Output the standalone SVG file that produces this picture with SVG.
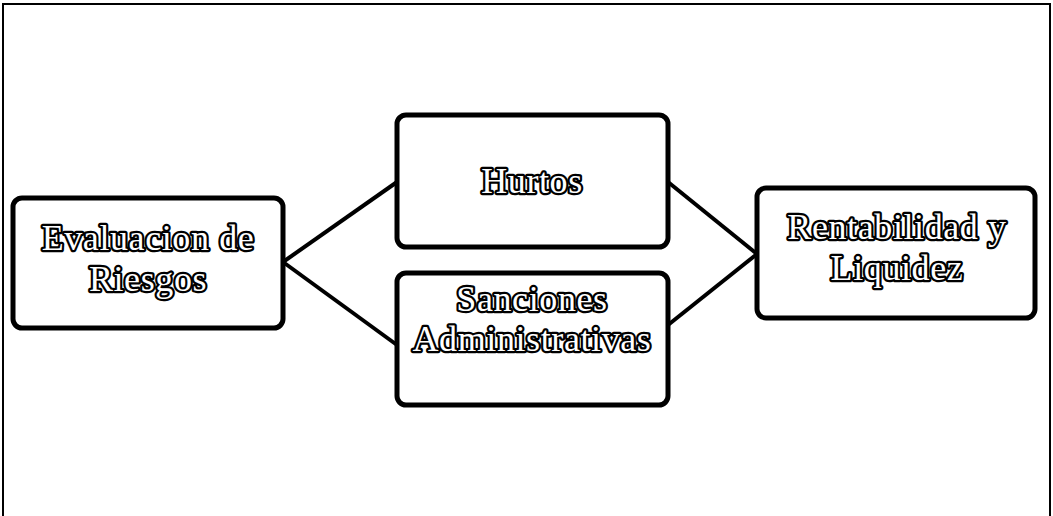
<svg xmlns="http://www.w3.org/2000/svg" width="1053" height="516" viewBox="0 0 1053 516">
<style>
.box{fill:#fff;stroke:#000;stroke-width:5}
.lbl{font-family:"Liberation Serif","DejaVu Serif",serif;font-size:36px;fill:#fff;stroke:#000;stroke-width:4.5;stroke-linejoin:round;paint-order:stroke;text-anchor:middle;letter-spacing:0.6px}
.con{stroke:#000;stroke-width:4;fill:none}
</style>
<rect width="1053" height="516" fill="#fff"/>
<path d="M3,516 V4 H1050 V516" fill="none" stroke="#000" stroke-width="2"/>
<g id="connectors">
<line class="con" x1="283" y1="262" x2="397" y2="182"/>
<line class="con" x1="283" y1="262" x2="397" y2="345"/>
<line class="con" x1="668" y1="182" x2="757" y2="254"/>
<line class="con" x1="668" y1="325" x2="757" y2="254"/>
</g>
<g id="n-evaluacion">
<rect class="box" x="13" y="198" width="270" height="130" rx="9"/>
<text class="lbl" x="148" y="250">Evaluacion de</text>
<text class="lbl" x="148" y="291">Riesgos</text>
</g>
<g id="n-hurtos">
<rect class="box" x="397" y="115" width="271" height="132" rx="9"/>
<text class="lbl" x="532" y="193">Hurtos</text>
</g>
<g id="n-sanciones">
<rect class="box" x="397" y="273" width="271" height="132" rx="9"/>
<text class="lbl" x="532" y="311">Sanciones</text>
<text class="lbl" x="532" y="351">Administrativas</text>
</g>
<g id="n-rentabilidad">
<rect class="box" x="757" y="188" width="278" height="130" rx="9"/>
<text class="lbl" x="897" y="239">Rentabilidad y</text>
<text class="lbl" x="897" y="280">Liquidez</text>
</g>
</svg>
